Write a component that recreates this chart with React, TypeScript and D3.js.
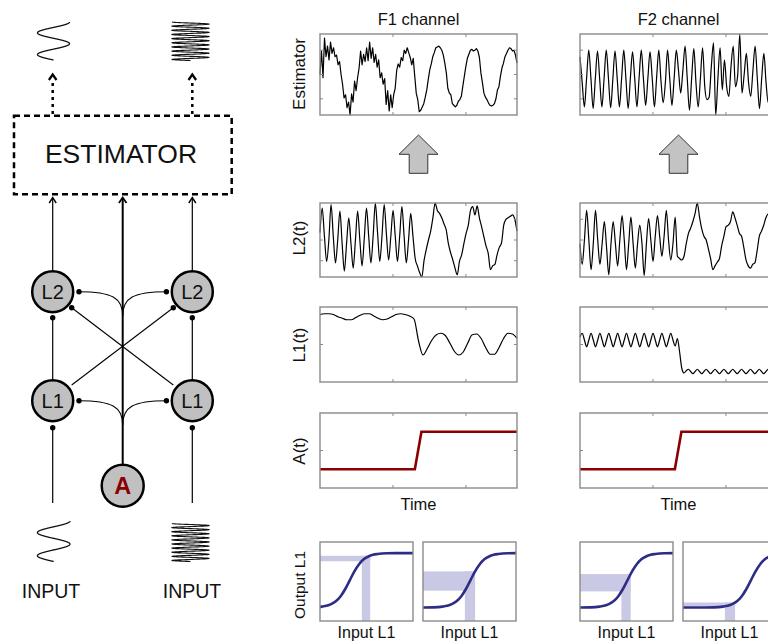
import React from 'react';
import * as d3 from 'd3';

const FONT = '"Liberation Sans", Arial, Helvetica, sans-serif';

// ---------------- data ----------------
const channelTitles = ['F1 channel', 'F2 channel'];
const rowLabels = ['Estimator', 'L2(t)', 'L1(t)', 'A(t)'];
const timeMax = 2.7;
const timeTicks = [1, 2];
const rowYTicks = [[0.2, 0.5, 0.8], [0.22, 0.5, 0.78], [0.5], [0.5]];

const f1Estimator = [
  0.50, 0.79, 0.46, 0.95, 0.72, 0.85, 0.68, 0.90, 0.76, 0.83,
  0.72, 0.74, 0.62, 0.66, 0.50, 0.38, 0.21, 0.25, 0.09, 0.16,
  0.00, 0.26, 0.16, 0.42, 0.30, 0.46, 0.58, 0.79, 0.62, 0.75,
  0.66, 0.83, 0.67, 0.90, 0.70, 0.83, 0.65, 0.75, 0.59, 0.68,
  0.46, 0.52, 0.38, 0.45, 0.13, 0.30, 0.05, 0.25, 0.09, 0.25,
  0.33, 0.55, 0.63, 0.59, 0.71, 0.67, 0.80, 0.76, 0.83, 0.77,
  0.71, 0.62, 0.70, 0.48, 0.27, 0.19, 0.04, 0.06, 0.10, 0.14,
  0.22, 0.31, 0.44, 0.56, 0.63, 0.72, 0.77, 0.83, 0.84, 0.85,
  0.83, 0.80, 0.74, 0.64, 0.52, 0.33, 0.27, 0.25, 0.14, 0.12,
  0.10, 0.12, 0.17, 0.19, 0.23, 0.36, 0.48, 0.60, 0.70, 0.75,
  0.80, 0.81, 0.79, 0.80, 0.82, 0.79, 0.71, 0.52, 0.40, 0.27,
  0.22, 0.19, 0.15, 0.12, 0.11, 0.12, 0.14, 0.20, 0.31, 0.35,
  0.48, 0.58, 0.64, 0.72, 0.76, 0.80, 0.83, 0.82, 0.79, 0.80,
  0.74, 0.64,
];

const f2Estimator = [
  0.72, 0.40, 0.10, 0.45, 0.80, 0.45, 0.08, 0.45, 0.79, 0.44,
  0.10, 0.45, 0.80, 0.45, 0.09, 0.44, 0.79, 0.45, 0.10, 0.45,
  0.80, 0.44, 0.08, 0.45, 0.78, 0.45, 0.10, 0.46, 0.80, 0.44,
  0.12, 0.45, 0.78, 0.45, 0.10, 0.46, 0.80, 0.42, 0.15, 0.40,
  0.80, 0.45, 0.12, 0.45, 0.80, 0.55, 0.27, 0.55, 0.85, 0.45,
  0.06, 0.45, 0.82, 0.39, 0.10, 0.45, 0.83, 0.35, 0.19, 0.22,
  0.60, 0.89, 0.00, 0.45, 0.83, 0.31, 0.68, 0.35, 0.23, 0.60,
  0.85, 0.35, 0.48, 1.00, 0.27, 0.50, 0.76, 0.40, 0.23, 0.55,
  0.85, 0.45, 0.08, 0.45, 0.76, 0.40, 0.15, 0.45, 0.80, 0.45,
  0.12,
];

const f1L2 = [
  0.60,
  0.93, 0.55, 0.21, 0.50, 0.98, 0.55, 0.19, 0.50, 0.89, 0.45, 0.08, 0.45,
  0.80, 0.45, 0.12, 0.50, 0.89, 0.50, 0.15, 0.52, 0.93, 0.55, 0.19, 0.55,
  1.00, 0.60, 0.21, 0.55, 0.98, 0.58, 0.23, 0.55, 0.90, 0.55, 0.21, 0.55,
  0.95, 0.55, 0.19, 0.50, 0.86, 0.55, 0.25, 0.15,
  0.06, 0.00, 0.22, 0.37, 0.50, 0.62, 0.80, 1.00, 0.90, 0.86,
  0.80, 0.72, 0.64, 0.45, 0.33, 0.23, 0.12, 0.03, 0.21, 0.30,
  0.45, 0.59, 0.70, 0.90, 0.95, 0.84, 0.96, 0.80, 0.68, 0.55,
  0.42, 0.32, 0.10, 0.15, 0.17, 0.30, 0.40, 0.46, 0.70, 0.78,
  0.80, 0.82, 0.84, 0.78, 0.62,
];

const f2L2 = [
  0.45,
  0.17, 0.50, 0.90, 0.50, 0.10, 0.45, 0.90, 0.50, 0.17, 0.45, 0.75, 0.40,
  0.03, 0.45, 0.75, 0.45, 0.15, 0.50, 0.83, 0.50, 0.10, 0.45, 0.81, 0.45,
  0.12, 0.45, 0.70, 0.45, 0.02, 0.45, 0.79, 0.50, 0.21, 0.55, 0.83, 0.55,
  0.28, 0.55, 0.90, 0.50, 0.23, 0.45, 0.81,
  0.28, 0.25, 0.23, 0.28, 0.45, 0.59, 0.66, 0.75, 0.86, 1.00,
  0.81, 0.65, 0.55, 0.50, 0.38, 0.25, 0.10, 0.15, 0.20, 0.25,
  0.42, 0.55, 0.68, 0.70, 0.75, 0.88, 0.80, 0.70, 0.59, 0.55,
  0.40, 0.23, 0.15, 0.12, 0.17, 0.19, 0.35, 0.55, 0.62, 0.70,
  0.80, 0.85, 0.80, 0.70, 0.60, 0.50,
];

const f1L1 = [
  0.90, 0.91, 0.91, 0.90, 0.87, 0.85, 0.83, 0.83, 0.86, 0.89,
  0.91, 0.91, 0.88, 0.85, 0.83, 0.84, 0.87, 0.90, 0.91, 0.90,
  0.88, 0.84, 0.55, 0.36, 0.45, 0.56, 0.63, 0.65, 0.62, 0.52,
  0.41, 0.36, 0.40, 0.52, 0.63, 0.64, 0.58, 0.46, 0.37, 0.37,
  0.46, 0.58, 0.65, 0.64, 0.58,
];

const f2L1 = [
  0.60,
  0.65, 0.56, 0.47, 0.56, 0.65, 0.56, 0.47, 0.56, 0.65, 0.56, 0.47, 0.56,
  0.65, 0.56, 0.47, 0.56, 0.65, 0.56, 0.47, 0.56, 0.65, 0.56, 0.47, 0.56,
  0.65, 0.56, 0.47, 0.56, 0.65, 0.56, 0.47, 0.56, 0.65, 0.56, 0.47, 0.56,
  0.65, 0.56, 0.47, 0.56,
  0.65, 0.56, 0.48, 0.58, 0.40, 0.18, 0.12, 0.15, 0.17, 0.14,
  0.11, 0.14, 0.17, 0.14, 0.11, 0.14, 0.17, 0.14, 0.11, 0.14,
  0.17, 0.14, 0.11, 0.14, 0.17, 0.14, 0.11, 0.14, 0.17, 0.14,
  0.11, 0.14, 0.17, 0.14, 0.11, 0.14, 0.17, 0.14, 0.11, 0.14,
  0.17, 0.14, 0.11, 0.14, 0.17, 0.14, 0.11, 0.14, 0.17,
];

const aTime = [0, 1.3, 1.39, 2.7];
const f1A = [0.25, 0.25, 0.75, 0.75];
const f2A = [0.25, 0.25, 0.75, 0.75];

const sigmoidOffset = [-0.8, -0.5, -0.4, -0.3, -0.25, -0.2, -0.15, -0.1, -0.05, 0, 0.05, 0.1, 0.15, 0.2, 0.25, 0.3, 0.4, 0.5, 0.8];
const sigmoidOutput = [0.17, 0.171, 0.173, 0.182, 0.192, 0.213, 0.249, 0.311, 0.402, 0.515, 0.628, 0.719, 0.781, 0.817, 0.838, 0.848, 0.857, 0.859, 0.86];
const sigmoidCenters = [[0.32, 0.51], [0.51, 0.73]];
const inputBands = [[[0.45, 0.54], [0.45, 0.56]], [[0.445, 0.545], [0.45, 0.56]]];

const estimators = [f1Estimator, f2Estimator];
const l2s = [f1L2, f2L2];
const l1s = [f1L1, f2L1];
const as = [f1A, f2A];

// ---------------- layout ----------------
const CH_X = [320, 580];
const PW = 197;
const ROWS = [
  { y0: 34, y1: 115 },
  { y0: 203, y1: 277 },
  { y0: 307, y1: 382 },
  { y0: 413, y1: 488 },
];
const SIG_Y0 = 542;
const SIG_Y1 = 621;
const SIG_W = 93;
const SIG_GAP = 10;
const FRAME = '#8a8a8a';
const BAND = '#c9c9e6';
const TEXT = '#111';

function tracePath(values: number[], x0: number, y0: number, y1: number, curve: any) {
  const x = d3.scaleLinear().domain([0, timeMax]).range([x0, x0 + PW]);
  const y = d3.scaleLinear().domain([0, 1]).range([y1, y0]);
  const n = values.length;
  return d3
    .line<number>()
    .x((_, i) => x((i * timeMax) / (n - 1)))
    .y((d) => y(d))
    .curve(curve)(values) as string;
}

function Frame({ x0, y0, y1, yt }: { x0: number; y0: number; y1: number; yt: number[] }) {
  const x = d3.scaleLinear().domain([0, timeMax]).range([x0, x0 + PW]);
  const y = d3.scaleLinear().domain([0, 1]).range([y1, y0]);
  return (
    <g stroke={FRAME} strokeWidth={1}>
      {timeTicks.map((t) => (
        <g key={'x' + t}>
          <line x1={x(t)} x2={x(t)} y1={y0} y2={y0 + 3} />
          <line x1={x(t)} x2={x(t)} y1={y1} y2={y1 - 3} />
        </g>
      ))}
      {yt.map((v) => (
        <g key={'y' + v}>
          <line x1={x0} x2={x0 + 3} y1={y(v)} y2={y(v)} />
          <line x1={x0 + PW} x2={x0 + PW - 3} y1={y(v)} y2={y(v)} />
        </g>
      ))}
      <rect x={x0} y={y0} width={PW} height={y1 - y0} fill="none" strokeWidth={1.4} />
    </g>
  );
}

function interp(xs: number[], ys: number[], v: number) {
  if (v <= xs[0]) return ys[0];
  for (let i = 1; i < xs.length; i++) {
    if (v <= xs[i]) {
      const t = (v - xs[i - 1]) / (xs[i] - xs[i - 1]);
      return ys[i - 1] + t * (ys[i] - ys[i - 1]);
    }
  }
  return ys[ys.length - 1];
}

function SigPanel({ id, x0, center, band }: { id: string; x0: number; center: number; band: number[] }) {
  const x = d3.scaleLinear().domain([0, 1]).range([x0, x0 + SIG_W]);
  const y = d3.scaleLinear().domain([0, 1]).range([SIG_Y1, SIG_Y0]);
  const xs = sigmoidOffset.map((u) => center + u);
  const fa = interp(xs, sigmoidOutput, band[0]);
  const fb = interp(xs, sigmoidOutput, band[1]);
  const pts = xs.map((v, i) => [v, sigmoidOutput[i]] as [number, number]);
  const path = d3
    .line<[number, number]>()
    .x((d) => x(d[0]))
    .y((d) => y(d[1]))
    .curve(d3.curveMonotoneX)(pts) as string;
  return (
    <g>
      <clipPath id={id}>
        <rect x={x0} y={SIG_Y0} width={SIG_W} height={SIG_Y1 - SIG_Y0} />
      </clipPath>
      <g clipPath={`url(#${id})`}>
        <rect x={x(0)} y={y(fb)} width={x(band[1]) - x(0)} height={y(fa) - y(fb)} fill={BAND} />
        <rect x={x(band[0])} y={y(fb)} width={x(band[1]) - x(band[0])} height={y(0) - y(fb)} fill={BAND} />
        <path d={path} fill="none" stroke="#2d2d86" strokeWidth={2.6} />
      </g>
      <rect x={x0} y={SIG_Y0} width={SIG_W} height={SIG_Y1 - SIG_Y0} fill="none" stroke={FRAME} strokeWidth={1.4} />
      <text x={x0 + SIG_W / 2} y={638} textAnchor="middle" fontSize={16} fill={TEXT}>
        Input L1
      </text>
    </g>
  );
}

function BlockArrow({ cx }: { cx: number }) {
  const pts = [
    [cx, 135],
    [cx + 19.5, 154.3],
    [cx + 9.3, 154.3],
    [cx + 9.3, 173.3],
    [cx - 9.3, 173.3],
    [cx - 9.3, 154.3],
    [cx - 19.5, 154.3],
  ];
  return <polygon points={pts.map((p) => p.join(',')).join(' ')} fill="#c3c3c3" stroke="#333" strokeWidth={1} />;
}

const iconCycles = [1.75, 9.25];
function wavePath(cx: number, yTop: number, yBot: number, amp: number, cycles: number) {
  const pts = d3.range(0, 1.0001, 0.002).map((t) => [cx - amp * Math.sin(2 * Math.PI * cycles * t), yBot - t * (yBot - yTop)] as [number, number]);
  return d3.line()(pts) as string;
}

function Channel({ ch }: { ch: number }) {
  const x0 = CH_X[ch];
  const rowsData = [estimators[ch], l2s[ch], l1s[ch]];
  const aX = d3.scaleLinear().domain([0, timeMax]).range([x0, x0 + PW]);
  const aY = d3.scaleLinear().domain([0, 1]).range([ROWS[3].y1, ROWS[3].y0]);
  const aPath = d3
    .line<number>()
    .x((_, i) => aX(aTime[i]))
    .y((d) => aY(d))(as[ch]) as string;
  return (
    <g>
      <text x={x0 + PW / 2} y={25} textAnchor="middle" fontSize={16.5} fill={TEXT}>
        {channelTitles[ch]}
      </text>
      {rowsData.map((vals, r) => (
        <g key={r}>
          <path
            d={tracePath(vals, x0, ROWS[r].y0, ROWS[r].y1, ch === 0 && r === 0 ? d3.curveLinear : d3.curveMonotoneX)}
            fill="none"
            stroke="#000"
            strokeWidth={1.2}
            strokeLinejoin="round"
          />
          <Frame x0={x0} y0={ROWS[r].y0} y1={ROWS[r].y1} yt={rowYTicks[r]} />
        </g>
      ))}
      <path d={aPath} fill="none" stroke="#8b0000" strokeWidth={2.6} />
      <Frame x0={x0} y0={ROWS[3].y0} y1={ROWS[3].y1} yt={rowYTicks[3]} />
      <text x={x0 + PW / 2} y={510} textAnchor="middle" fontSize={16.5} fill={TEXT}>
        Time
      </text>
      <BlockArrow cx={x0 + PW / 2} />
      {[0, 1].map((k) => (
        <SigPanel
          key={k}
          id={`sig-${ch}-${k}`}
          x0={x0 + k * (SIG_W + SIG_GAP)}
          center={sigmoidCenters[ch][k]}
          band={inputBands[ch][k]}
        />
      ))}
    </g>
  );
}

function Diagram() {
  const cL = 52.7;
  const cC = 122.7;
  const cR = 192.3;
  const yL2 = 291.7;
  const yL1 = 400.7;
  const yA = 485.7;
  const r = 20.5;
  const dots = [
    [cL, 317.7], [cR, 317.7], [cL, 427.7], [cR, 427.7],
    [79, yL2], [166.4, yL2], [79, yL1], [166.4, yL1],
    [71.7, 307.7], [173.3, 307.7],
  ];
  const chevron = (x: number, y: number, w: number, h: number) => `M${x - w},${y + h} L${x},${y} L${x + w},${y + h}`;
  return (
    <g>
      {/* output icons */}
      <path d={wavePath(53.5, 22, 60, 16, iconCycles[0])} fill="none" stroke="#111" strokeWidth={1.3} />
      <path d={wavePath(190.5, 22, 60.5, 18.5, iconCycles[1])} fill="none" stroke="#111" strokeWidth={1.1} />
      {/* dotted arrows */}
      {[cL, cR].map((x) => (
        <g key={x} stroke="#000" strokeWidth={2.5} fill="none">
          <line x1={x} x2={x} y1={114} y2={80} strokeDasharray="3 4" />
          <path d={chevron(x, 74.5, 3.8, 5.5)} strokeWidth={2.2} />
        </g>
      ))}
      {/* estimator box */}
      <rect x={14} y={115.7} width={217.7} height={78.6} fill="none" stroke="#000" strokeWidth={2.5} strokeDasharray="6 4" />
      <text x={121} y={163} textAnchor="middle" fontSize={26.5} fill={TEXT}>
        ESTIMATOR
      </text>
      {/* vertical lines to box */}
      <g stroke="#000" fill="none">
        <line x1={cL} x2={cL} y1={yL2 - r} y2={198} strokeWidth={1.2} />
        <line x1={cR} x2={cR} y1={yL2 - r} y2={198} strokeWidth={1.2} />
        <line x1={cC} x2={cC} y1={yA - 21} y2={198} strokeWidth={2} />
        <path d={chevron(cL, 197.5, 3.5, 5.5)} strokeWidth={1.4} />
        <path d={chevron(cR, 197.5, 3.5, 5.5)} strokeWidth={1.4} />
        <path d={chevron(cC, 197.5, 3.8, 5.5)} strokeWidth={1.8} />
        {/* L1 -> L2 */}
        <line x1={cL} x2={cL} y1={yL1 - r} y2={317.7} strokeWidth={1.2} />
        <line x1={cR} x2={cR} y1={yL1 - r} y2={317.7} strokeWidth={1.2} />
        {/* crossing lines */}
        <line x1={71.7} y1={385} x2={173.3} y2={307.7} strokeWidth={1.1} />
        <line x1={173.3} y1={385} x2={71.7} y2={307.7} strokeWidth={1.1} />
        {/* curved branches from A */}
        <path d={`M${cC},316 C${cC},298 112,${yL2} 79,${yL2}`} strokeWidth={1.1} />
        <path d={`M${cC},316 C${cC},298 133.4,${yL2} 166.4,${yL2}`} strokeWidth={1.1} />
        <path d={`M${cC},425 C${cC},407 112,${yL1} 79,${yL1}`} strokeWidth={1.1} />
        <path d={`M${cC},425 C${cC},407 133.4,${yL1} 166.4,${yL1}`} strokeWidth={1.1} />
        {/* input lines */}
        <line x1={cL} x2={cL} y1={427.7} y2={503} strokeWidth={1.2} />
        <line x1={cR} x2={cR} y1={427.7} y2={503} strokeWidth={1.2} />
      </g>
      {/* nodes */}
      {[
        [cL, yL2, 'L2'],
        [cR, yL2, 'L2'],
        [cL, yL1, 'L1'],
        [cR, yL1, 'L1'],
      ].map(([x, y, t], i) => (
        <g key={i}>
          <circle cx={x as number} cy={y as number} r={r} fill="#c0c0c0" stroke="#000" strokeWidth={2.5} />
          <text x={x as number} y={(y as number) + 7.3} textAnchor="middle" fontSize={20} fill={TEXT}>
            {t as string}
          </text>
        </g>
      ))}
      {dots.map(([x, y], i) => (
        <circle key={i} cx={x} cy={y} r={2.7} fill="#000" />
      ))}
      <circle cx={cC} cy={yA} r={21} fill="#c0c0c0" stroke="#000" strokeWidth={2.5} />
      <text x={cC} y={yA + 8.3} textAnchor="middle" fontSize={23.5} fontWeight="bold" fill="#8b0000">
        A
      </text>
      {/* input icons */}
      <path d={wavePath(53.7, 521, 561.5, 16.3, iconCycles[0])} fill="none" stroke="#111" strokeWidth={1.3} />
      <path d={wavePath(190.5, 523.5, 561.5, 18.5, iconCycles[1])} fill="none" stroke="#111" strokeWidth={1.1} />
      <text x={51} y={598} textAnchor="middle" fontSize={19.5} fill={TEXT}>
        INPUT
      </text>
      <text x={192} y={598} textAnchor="middle" fontSize={19.5} fill={TEXT}>
        INPUT
      </text>
    </g>
  );
}

export default function App() {
  const labelY = [74, 238, 345, 451];
  return (
    <svg width={768} height={644} style={{ position: 'absolute', left: 0, top: 0 }} fontFamily={FONT}>
      <rect width={768} height={644} fill="#fff" />
      <Diagram />
      {rowLabels.map((t, i) => (
        <text key={t} transform={`translate(305,${labelY[i]}) rotate(-90)`} textAnchor="middle" fontSize={17} fill={TEXT}>
          {t}
        </text>
      ))}
      <text transform="translate(305,585) rotate(-90)" textAnchor="middle" fontSize={15.5} fill={TEXT}>
        Output L1
      </text>
      <Channel ch={0} />
      <Channel ch={1} />
    </svg>
  );
}
